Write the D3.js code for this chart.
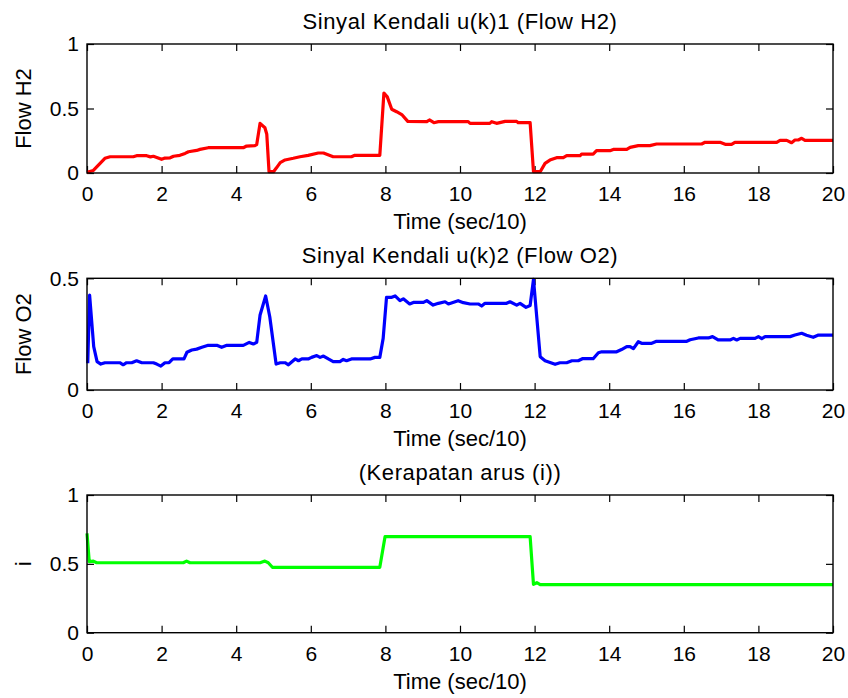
<!DOCTYPE html>
<html><head><meta charset="utf-8">
<script src="https://cdn.jsdelivr.net/npm/d3@7"></script>
<style>
body{margin:0;background:#fff;}
svg text{font-family:"Liberation Sans",Arial,sans-serif;fill:#000;}
</style></head><body>
<svg id="chart" width="848" height="698"></svg>
<script>
// ---- Data (time in sec/10) ----
const xTicks = [0,2,4,6,8,10,12,14,16,18,20];

const h2Time = [0,0.17,0.48,0.62,1.24,1.33,1.6,1.7,1.78,1.87,2.0,2.09,2.23,2.32,2.49,2.63,2.72,2.94,3.03,3.25,4.19,4.28,4.5,4.55,4.64,4.77,4.82,4.88,5.0,5.08,5.18,5.31,5.53,5.71,5.93,6.2,6.34,6.6,7.09,7.18,7.85,7.96,8.05,8.17,8.3,8.45,8.6,9.11,9.18,9.3,9.42,10.22,10.27,10.8,10.85,10.98,11.21,11.52,11.56,11.88,11.97,12.15,12.28,12.41,12.59,12.77,12.86,13.22,13.26,13.57,13.66,14.02,14.11,14.47,14.56,14.78,15.09,15.27,16.48,16.57,16.97,17.11,17.28,17.37,18.49,18.58,18.76,18.89,18.98,19.07,19.16,19.25,20.0];
const h2Flow = [0.005,0.02,0.114,0.126,0.126,0.134,0.134,0.125,0.13,0.121,0.106,0.116,0.118,0.13,0.137,0.152,0.165,0.175,0.183,0.196,0.196,0.209,0.212,0.22,0.385,0.351,0.3,0.01,0.01,0.04,0.08,0.101,0.114,0.126,0.137,0.155,0.155,0.126,0.126,0.137,0.137,0.62,0.59,0.494,0.475,0.45,0.40,0.398,0.411,0.39,0.398,0.398,0.385,0.385,0.398,0.385,0.40,0.40,0.39,0.39,0.01,0.01,0.075,0.1,0.119,0.119,0.134,0.134,0.147,0.147,0.173,0.173,0.183,0.183,0.199,0.212,0.212,0.225,0.225,0.238,0.238,0.222,0.222,0.238,0.238,0.253,0.253,0.235,0.256,0.256,0.269,0.253,0.253];

const o2Time = [0.02,0.07,0.18,0.27,0.37,0.48,0.88,0.97,1.06,1.2,1.33,1.47,1.78,1.87,1.98,2.09,2.2,2.3,2.6,2.68,2.81,2.94,3.08,3.25,3.48,3.61,3.75,4.19,4.35,4.46,4.55,4.64,4.79,4.9,5.07,5.18,5.31,5.4,5.58,5.67,5.76,5.93,6.02,6.16,6.25,6.34,6.47,6.6,6.78,6.87,6.96,7.09,7.59,7.72,7.85,7.94,8.03,8.17,8.26,8.39,8.48,8.65,8.75,9.02,9.11,9.28,9.42,9.6,9.69,9.95,10.09,10.27,10.49,10.58,10.67,11.25,11.34,11.52,11.61,11.77,11.88,11.97,12.15,12.28,12.55,12.68,12.86,13.0,13.17,13.28,13.57,13.71,13.8,14.2,14.33,14.47,14.56,14.65,14.78,14.87,15.14,15.27,16.08,16.17,16.39,16.66,16.77,16.92,17.24,17.33,17.42,17.51,17.91,18.0,18.09,18.18,18.85,18.98,19.16,19.29,19.47,19.61,20.0];
const o2Flow = [0.12,0.425,0.194,0.127,0.116,0.122,0.122,0.113,0.122,0.122,0.131,0.122,0.122,0.116,0.107,0.122,0.122,0.139,0.139,0.169,0.179,0.183,0.191,0.2,0.2,0.191,0.2,0.2,0.213,0.206,0.213,0.336,0.421,0.328,0.116,0.122,0.122,0.113,0.139,0.131,0.139,0.139,0.146,0.154,0.146,0.152,0.139,0.127,0.127,0.137,0.131,0.139,0.139,0.146,0.146,0.231,0.415,0.415,0.421,0.4,0.408,0.385,0.392,0.392,0.4,0.38,0.388,0.395,0.385,0.4,0.391,0.385,0.385,0.376,0.388,0.388,0.395,0.38,0.388,0.37,0.378,0.495,0.149,0.131,0.115,0.122,0.122,0.131,0.131,0.14,0.14,0.167,0.171,0.171,0.181,0.194,0.194,0.185,0.216,0.209,0.209,0.218,0.218,0.225,0.233,0.233,0.239,0.224,0.224,0.231,0.224,0.231,0.231,0.239,0.23,0.239,0.239,0.246,0.254,0.245,0.236,0.246,0.246];

const iTime = [0,0.06,0.17,0.26,2.58,2.67,2.76,4.64,4.77,4.86,4.97,7.85,7.99,11.88,11.97,12.06,12.15,20.0];
const iDensity = [0.722,0.516,0.52,0.508,0.508,0.52,0.508,0.508,0.52,0.508,0.475,0.475,0.697,0.697,0.351,0.363,0.349,0.349];

const panels = [
  {title:"Sinyal Kendali u(k)1 (Flow H2)", ylabel:"Flow H2", yTicks:[0,0.5,1], yMax:1, t:h2Time, v:h2Flow, color:"#ff0000", top:44, bottom:173},
  {title:"Sinyal Kendali u(k)2 (Flow O2)", ylabel:"Flow O2", yTicks:[0,0.5], yMax:0.5, t:o2Time, v:o2Flow, color:"#0000ff", top:278.3, bottom:390},
  {title:"(Kerapatan arus (i))", ylabel:"i", yTicks:[0,0.5,1], yMax:1, t:iTime, v:iDensity, color:"#00ff00", top:495, bottom:632.7}
];

const svg = d3.select("#chart");
const left = 87, right = 833;
const x = d3.scaleLinear().domain([0,20]).range([left,right]);
const fmt = d => String(d);
const tickLen = 7;

panels.forEach(p => {
  const y = d3.scaleLinear().domain([0,p.yMax]).range([p.bottom,p.top]);
  const g = svg.append("g");
  const h = p.bottom - p.top;

  // axes
  g.append("g").attr("transform",`translate(0,${p.bottom})`)
    .call(d3.axisBottom(x).tickValues(xTicks).tickFormat(fmt).tickSizeInner(-tickLen).tickSizeOuter(0).tickPadding(13))
    .call(a=>{a.select(".domain").remove(); a.selectAll("text").attr("font-size",21).style("font-family","Liberation Sans, Arial, sans-serif");});
  g.append("g").attr("transform",`translate(0,${p.top})`)
    .call(d3.axisTop(x).tickValues(xTicks).tickFormat("").tickSizeInner(-tickLen).tickSizeOuter(0))
    .call(a=>a.select(".domain").remove());
  g.append("g").attr("transform",`translate(${left},0)`)
    .call(d3.axisLeft(y).tickValues(p.yTicks).tickFormat(fmt).tickSizeInner(-tickLen).tickSizeOuter(0).tickPadding(8))
    .call(a=>{a.select(".domain").remove(); a.selectAll("text").attr("font-size",21).style("font-family","Liberation Sans, Arial, sans-serif");});
  g.append("g").attr("transform",`translate(${right},0)`)
    .call(d3.axisRight(y).tickValues(p.yTicks).tickFormat("").tickSizeInner(-tickLen).tickSizeOuter(0))
    .call(a=>a.select(".domain").remove());
  g.selectAll(".tick line").attr("stroke","#000").attr("stroke-width",1.2);

  // data line (clipped to box)
  const line = d3.line().x((d,i)=>x(p.t[i])).y(d=>y(d));
  g.append("path").datum(p.v).attr("d",line)
    .attr("fill","none").attr("stroke",p.color).attr("stroke-width",3.2)
    .attr("stroke-linejoin","round").attr("stroke-linecap","butt");

  // box
  g.append("rect").attr("x",left).attr("y",p.top).attr("width",right-left).attr("height",h)
    .attr("fill","none").attr("stroke","#000").attr("stroke-width",1.4);

  // title
  g.append("text").attr("x",(left+right)/2).attr("y",p.top-15).attr("text-anchor","middle")
    .attr("font-size",22).style("letter-spacing","0.6px").text(p.title);
  // x label
  g.append("text").attr("x",(left+right)/2).attr("y",p.bottom+56).attr("text-anchor","middle")
    .attr("font-size",22).text("Time (sec/10)");
  // y label
  g.append("text").attr("transform",`translate(31,${(p.top+p.bottom)/2}) rotate(-90)`)
    .attr("text-anchor","middle").attr("font-size",22).text(p.ylabel);
});
</script>
</body></html>
